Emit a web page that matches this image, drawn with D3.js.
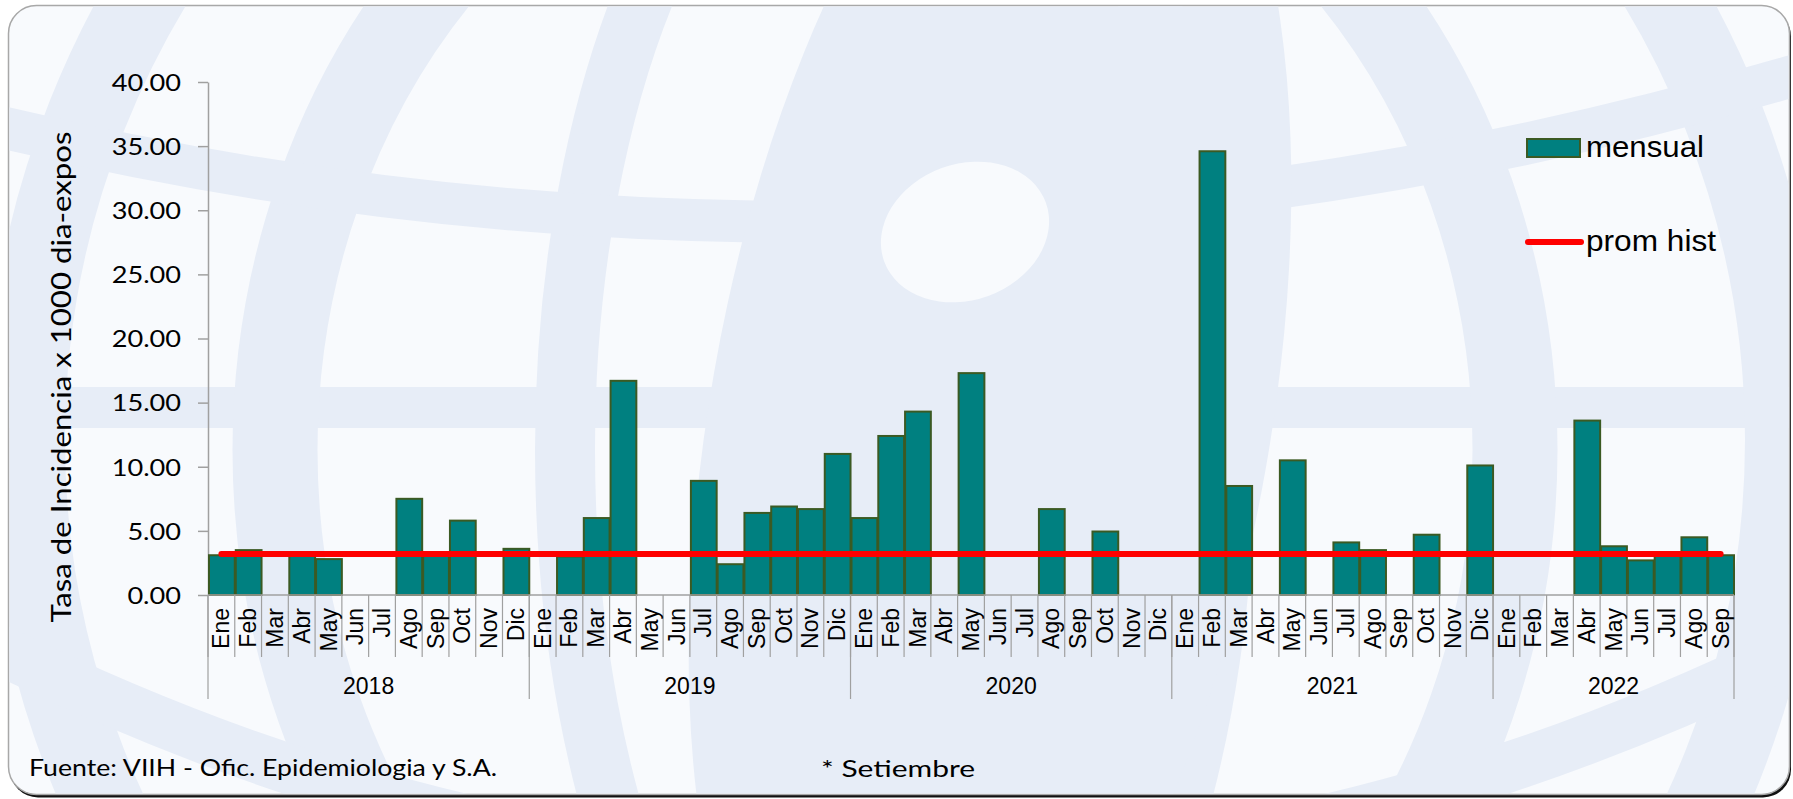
<!DOCTYPE html>
<html>
<head>
<meta charset="utf-8">
<script src="https://cdn.jsdelivr.net/npm/d3@7"></script>
<style>
  html, body { margin: 0; padding: 0; background: #ffffff; }
  svg { display: block; }
</style>
</head>
<body>
<svg id="chart" width="1793" height="799"></svg>
<script>
// ---------------- data ----------------
const years = ["2018", "2019", "2020", "2021", "2022"];
const monthNames = ["Ene","Feb","Mar","Abr","May","Jun","Jul","Ago","Sep","Oct","Nov","Dic"];
const monthsPerYear = [12, 12, 12, 12, 9];
const v2018 = [3.1, 3.5, 0, 3.1, 2.8, 0, 0, 7.5, 3.1, 5.8, 0, 3.6];
const v2019 = [0, 3.0, 6.0, 16.7, 0, 0, 8.9, 2.4, 6.4, 6.9, 6.7, 11.0];
const v2020 = [6.0, 12.4, 14.3, 0, 17.3, 0, 0, 6.7, 0, 4.95, 0, 0];
const v2021 = [0, 34.6, 8.5, 0, 10.5, 0, 4.1, 3.5, 0, 4.7, 0, 10.1];
const v2022 = [0, 0, 0, 13.6, 3.8, 2.7, 3.1, 4.5, 3.1];
const promHist = 3.2;
const yTicks = [0, 5, 10, 15, 20, 25, 30, 35, 40];
const yTitle = "Tasa de Incidencia x 1000 dia-expos";
const seriesNames = ["mensual", "prom hist"];
const sourceText = "Fuente: VIIH - Ofic. Epidemiologia y S.A.";
const noteText = "* Setiembre";

// build flat table
const yearValues = [v2018, v2019, v2020, v2021, v2022];
const rows = [];
years.forEach((y, yi) => {
  for (let m = 0; m < monthsPerYear[yi]; m++) {
    rows.push({ id: rows.length, year: y, month: monthNames[m], value: yearValues[yi][m] });
  }
});

// ---------------- layout ----------------
const svg = d3.select("#chart");
const W = 1793, H = 799;
const bg = "#f8fafd", wm = "#e7edf7";
const teal = "#008080", olive = "#3b5a23";
const calibri = "Lato, 'Open Sans', sans-serif";
const arial = "'Liberation Sans', Arial, sans-serif";

// frame with shadow
svg.append("rect").attr("x", 10).attr("y", 8.5).attr("width", 1781).attr("height", 789)
  .attr("rx", 28).attr("fill", "#111");
svg.append("rect").attr("x", 8.5).attr("y", 5.5).attr("width", 1781).attr("height", 789)
  .attr("rx", 28).attr("fill", bg).attr("stroke", "#a8a8a8").attr("stroke-width", 1.5);

// watermark (light globe logo)
const defs = svg.append("defs");
defs.append("clipPath").attr("id", "frameClip")
  .append("rect").attr("x", 9.5).attr("y", 6.5).attr("width", 1779).attr("height", 787).attr("rx", 27);
const wmg = svg.append("g").attr("clip-path", "url(#frameClip)");
// horizontal band
wmg.append("rect").attr("x", 0).attr("y", 387).attr("width", W).attr("height", 41).attr("fill", wm);
// outer circle
wmg.append("circle").attr("cx", 905).attr("cy", 440).attr("r", 880)
  .attr("fill", "none").attr("stroke", wm).attr("stroke-width", 80);
// outer meridians
wmg.append("ellipse").attr("cx", 895).attr("cy", 450).attr("rx", 620).attr("ry", 700)
  .attr("fill", "none").attr("stroke", wm).attr("stroke-width", 85);
// inner meridians
wmg.append("ellipse").attr("cx", 895).attr("cy", 450).attr("rx", 330).attr("ry", 700)
  .attr("fill", "none").attr("stroke", wm).attr("stroke-width", 60);
// parallels
wmg.append("path").attr("d", "M -20,122 Q 895,345 1813,70")
  .attr("fill", "none").attr("stroke", wm).attr("stroke-width", 42);
wmg.append("path").attr("d", "M -20,640 Q 895,1100 1813,640")
  .attr("fill", "none").attr("stroke", wm).attr("stroke-width", 50);
// central lens
wmg.append("ellipse").attr("cx", 0).attr("cy", 0).attr("rx", 280).attr("ry", 700)
  .attr("transform", "translate(990,420) rotate(10)").attr("fill", wm);
// hole
wmg.append("ellipse").attr("cx", 0).attr("cy", 0).attr("rx", 86).attr("ry", 68)
  .attr("transform", "translate(965,232) rotate(-20)").attr("fill", bg);

// ---------------- scales ----------------
const x0 = 208, x1 = 1734, yBottom = 595, yTop = 82;
const x = d3.scaleBand().domain(rows.map(d => d.id)).range([x0, x1]).padding(0);
const y = d3.scaleLinear().domain([0, 40]).range([yBottom, yTop]);

// ---------------- y axis ----------------
const yAxis = d3.axisLeft(y).tickValues(yTicks).tickFormat(d3.format(".2f"))
  .tickSizeInner(10).tickSizeOuter(0).tickPadding(0);
const gy = svg.append("g").attr("transform", `translate(${x0},0)`).call(yAxis);
gy.select(".domain").attr("stroke", "#a0a0a0").attr("stroke-width", 1.5);
gy.selectAll(".tick line").attr("stroke", "#a0a0a0").attr("stroke-width", 1.5);
gy.selectAll(".tick text")
  .attr("x", 0).attr("dy", "0.36em")
  .attr("transform", "translate(-27,0) scale(1.18,1)")
  .attr("font-family", calibri).attr("font-size", 23).attr("fill", "#000");

// y title
svg.append("text")
  .attr("transform", "translate(71,377) rotate(-90)")
  .attr("text-anchor", "middle")
  .attr("font-family", calibri).attr("font-size", 26).attr("fill", "#000")
  .attr("textLength", 491).attr("lengthAdjust", "spacingAndGlyphs")
  .text(yTitle);

// ---------------- bars ----------------
svg.append("g").selectAll("rect")
  .data(rows.filter(d => d.value > 0))
  .join("rect")
  .attr("x", d => x(d.id) + 1)
  .attr("y", d => y(d.value))
  .attr("width", x.bandwidth() - 1)
  .attr("height", d => y(0) - y(d.value))
  .attr("fill", teal).attr("stroke", olive).attr("stroke-width", 2);

// ---------------- category axis ----------------
const gx = svg.append("g");
gx.append("line").attr("x1", x0).attr("x2", x1).attr("y1", yBottom).attr("y2", yBottom)
  .attr("stroke", "#a0a0a0").attr("stroke-width", 1.5);
// month separators
const bounds = rows.map(d => x(d.id)).concat([x1]);
gx.selectAll("line.m").data(bounds).join("line").attr("class", "m")
  .attr("x1", d => d).attr("x2", d => d).attr("y1", yBottom).attr("y2", 657)
  .attr("stroke", "#a0a0a0").attr("stroke-width", 1.2);
// year separators
const yearStarts = [];
let acc = 0;
years.forEach((yr, i) => { yearStarts.push(acc); acc += monthsPerYear[i]; });
const yearBounds = yearStarts.map(s => x(s)).concat([x1]);
gx.selectAll("line.y").data(yearBounds).join("line").attr("class", "y")
  .attr("x1", d => d).attr("x2", d => d).attr("y1", yBottom).attr("y2", 699)
  .attr("stroke", "#a0a0a0").attr("stroke-width", 1.2);
// month labels
gx.selectAll("text.m").data(rows).join("text").attr("class", "m")
  .attr("transform", d => `translate(${x(d.id) + x.bandwidth() / 2},608) rotate(-90)`)
  .attr("text-anchor", "end").attr("dy", "0.35em")
  .attr("font-family", arial).attr("font-size", 23).attr("fill", "#000")
  .text(d => d.month);
// year labels
gx.selectAll("text.y").data(years).join("text").attr("class", "y")
  .attr("x", (d, i) => (yearBounds[i] + yearBounds[i + 1]) / 2)
  .attr("y", 694)
  .attr("text-anchor", "middle")
  .attr("font-family", arial).attr("font-size", 23).attr("fill", "#000")
  .text(d => d);

// ---------------- prom hist line ----------------
const line = d3.line().x(d => x(d.id) + x.bandwidth() / 2).y(() => y(promHist));
svg.append("path").datum([rows[0], rows[rows.length - 1]])
  .attr("d", line).attr("fill", "none")
  .attr("stroke", "#ff0000").attr("stroke-width", 6).attr("stroke-linecap", "round");

// ---------------- legend ----------------
const lg = svg.append("g");
lg.append("rect").attr("x", 1527).attr("y", 139).attr("width", 53).attr("height", 18)
  .attr("fill", teal).attr("stroke", olive).attr("stroke-width", 2);
lg.append("text").attr("x", 1586).attr("y", 157)
  .attr("font-family", arial).attr("font-size", 30).attr("fill", "#000")
  .attr("textLength", 118).attr("lengthAdjust", "spacingAndGlyphs")
  .text(seriesNames[0]);
lg.append("line").attr("x1", 1528).attr("x2", 1581).attr("y1", 242).attr("y2", 242)
  .attr("stroke", "#ff0000").attr("stroke-width", 6).attr("stroke-linecap", "round");
lg.append("text").attr("x", 1586).attr("y", 251)
  .attr("font-family", arial).attr("font-size", 30).attr("fill", "#000")
  .attr("textLength", 130).attr("lengthAdjust", "spacingAndGlyphs")
  .text(seriesNames[1]);

// ---------------- footer ----------------
svg.append("text").attr("x", 29).attr("y", 776)
  .attr("font-family", calibri).attr("font-size", 23).attr("fill", "#000")
  .attr("textLength", 468).attr("lengthAdjust", "spacingAndGlyphs")
  .text(sourceText);
svg.append("text").attr("x", 821).attr("y", 777)
  .attr("font-family", calibri).attr("font-size", 23).attr("fill", "#000")
  .attr("textLength", 154).attr("lengthAdjust", "spacingAndGlyphs")
  .text(noteText);
</script>
</body>
</html>
